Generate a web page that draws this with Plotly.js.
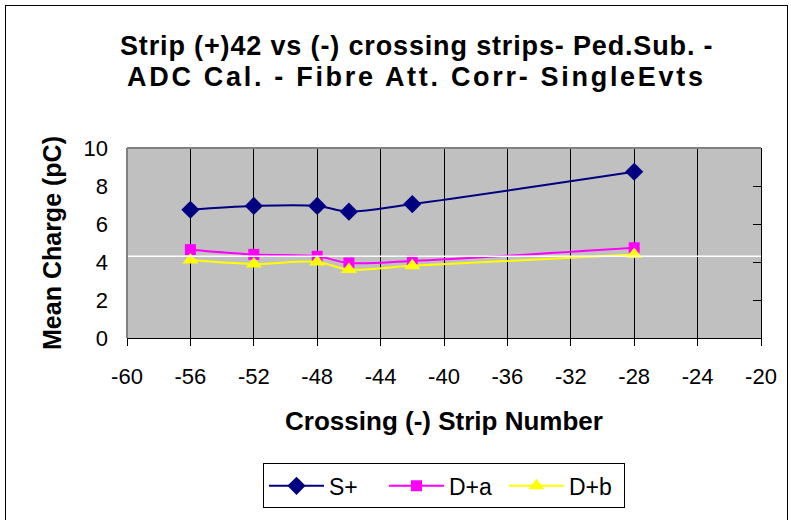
<!DOCTYPE html>
<html>
<head>
<meta charset="utf-8">
<script src="https://cdn.plot.ly/plotly-3.0.1.min.js"></script>
<style>
html,body{margin:0;padding:0;background:#fff;}
#chart{width:791px;height:520px;position:absolute;left:0;top:0;}
#frame{position:absolute;left:5px;top:5px;width:781px;height:540px;border:1px solid #000;pointer-events:none;}
</style>
</head>
<body>
<div id="chart"></div>
<div id="frame"></div>
<script>
// Data
const stripNumbers = [-56, -52, -48, -46, -42, -28];
const sPlus  = [6.75, 6.95, 6.95, 6.65, 7.05, 8.75];
const dPlusA = [4.65, 4.40, 4.30, 3.95, 4.05, 4.75];
const dPlusB = [4.10, 3.90, 4.00, 3.60, 3.80, 4.40];
const seriesNames = ['S+', 'D+a', 'D+b'];
const xTicks = [-60, -56, -52, -48, -44, -40, -36, -32, -28, -24, -20];
const yTicks = [0, 2, 4, 6, 8, 10];
const titleLines = ['Strip (+)42 vs (-) crossing strips- Ped.Sub. -', 'ADC Cal. - Fibre Att. Corr- SingleEvts'];
const whiteLineLevel = 4.3;

const FONT = 'Liberation Sans, Arial, sans-serif';

function series(name, y, color, symbol, size) {
  return {
    x: stripNumbers, y: y, name: name, type: 'scatter', mode: 'lines+markers',
    line: {color: color, width: 2, shape: 'spline', smoothing: 1},
    marker: {color: color, symbol: symbol, size: size, line: {width: 0}}
  };
}

const data = [
  series(seriesNames[0], sPlus, '#000080', 'diamond', 14),
  series(seriesNames[1], dPlusA, '#FF00FF', 'square', 11),
  series(seriesNames[2], dPlusB, '#FFFF00', 'triangle-up', 14),
  {x: [-20], y: [0], yaxis: 'y2', type: 'scatter', mode: 'markers', marker: {opacity: 0}, showlegend: false, hoverinfo: 'skip'}
];

const titleFont = {family: FONT, size: 27, weight: 'bold', color: '#000'};

const layout = {
  width: 791, height: 520,
  margin: {l: 127, r: 30, t: 148, b: 179},
  paper_bgcolor: '#FFFFFF',
  plot_bgcolor: '#C0C0C0',
  font: {family: FONT, color: '#000'},
  annotations: [
    {text: '<b><span style="letter-spacing:0.85px">' + titleLines[0] + '</span></b>', xref: 'paper', yref: 'paper', x: 0.457, y: 1.539, xanchor: 'center', yanchor: 'middle', showarrow: false, font: titleFont},
    {text: '<b><span style="letter-spacing:2.7px">' + titleLines[1] + '</span></b>', xref: 'paper', yref: 'paper', x: 0.457, y: 1.373, xanchor: 'center', yanchor: 'middle', showarrow: false, font: titleFont}
  ],
  xaxis: {
    range: [-60, -20], tickvals: xTicks, ticktext: xTicks.map(String),
    showgrid: true, gridcolor: '#000000', gridwidth: 1,
    zeroline: false, showline: true, linecolor: '#000', linewidth: 1,
    ticks: 'outside', ticklen: 7, tickcolor: '#000',
    tickfont: {family: FONT, size: 22}, ticklabelstandoff: 12,
    title: {text: 'Crossing (-) Strip Number', font: {family: FONT, size: 26, weight: 'bold'}, standoff: 23}
  },
  yaxis: {
    range: [0, 10], tickvals: yTicks, ticktext: yTicks.map(String),
    showgrid: false, zeroline: false, showline: false,
    ticks: '', tickfont: {family: FONT, size: 22}, ticklabelstandoff: 18,
    title: {text: 'Mean Charge (pC)', font: {family: FONT, size: 25, weight: 'bold'}, standoff: 14}
  },
  yaxis2: {
    overlaying: 'y', side: 'right', range: [0, 10], tickvals: yTicks,
    showticklabels: false, showgrid: false, zeroline: false,
    showline: true, linecolor: '#000', linewidth: 1,
    ticks: 'inside', ticklen: 8, tickcolor: '#000'
  },
  legend: {
    orientation: 'h', x: 0.5, xanchor: 'center', y: -0.66, yanchor: 'top',
    bgcolor: '#FFFFFF', bordercolor: '#000', borderwidth: 1,
    font: {family: FONT, size: 23}, itemwidth: 55, entrywidth: 50, tracegroupgap: 0
  },
  shapes: [
    {type: 'line', xref: 'paper', yref: 'y', x0: 0, x1: 1, y0: whiteLineLevel, y1: whiteLineLevel, line: {color: '#FFFFFF', width: 1.5}},
    {type: 'line', xref: 'paper', yref: 'paper', x0: 0, x1: 0, y0: 0, y1: 1, line: {color: '#808080', width: 2}},
    {type: 'line', xref: 'paper', yref: 'paper', x0: 0, x1: 1, y0: 1, y1: 1, line: {color: '#808080', width: 2}}
  ],
  showlegend: true
};

Plotly.newPlot('chart', data, layout, {displayModeBar: false, staticPlot: true});
</script>
</body>
</html>
